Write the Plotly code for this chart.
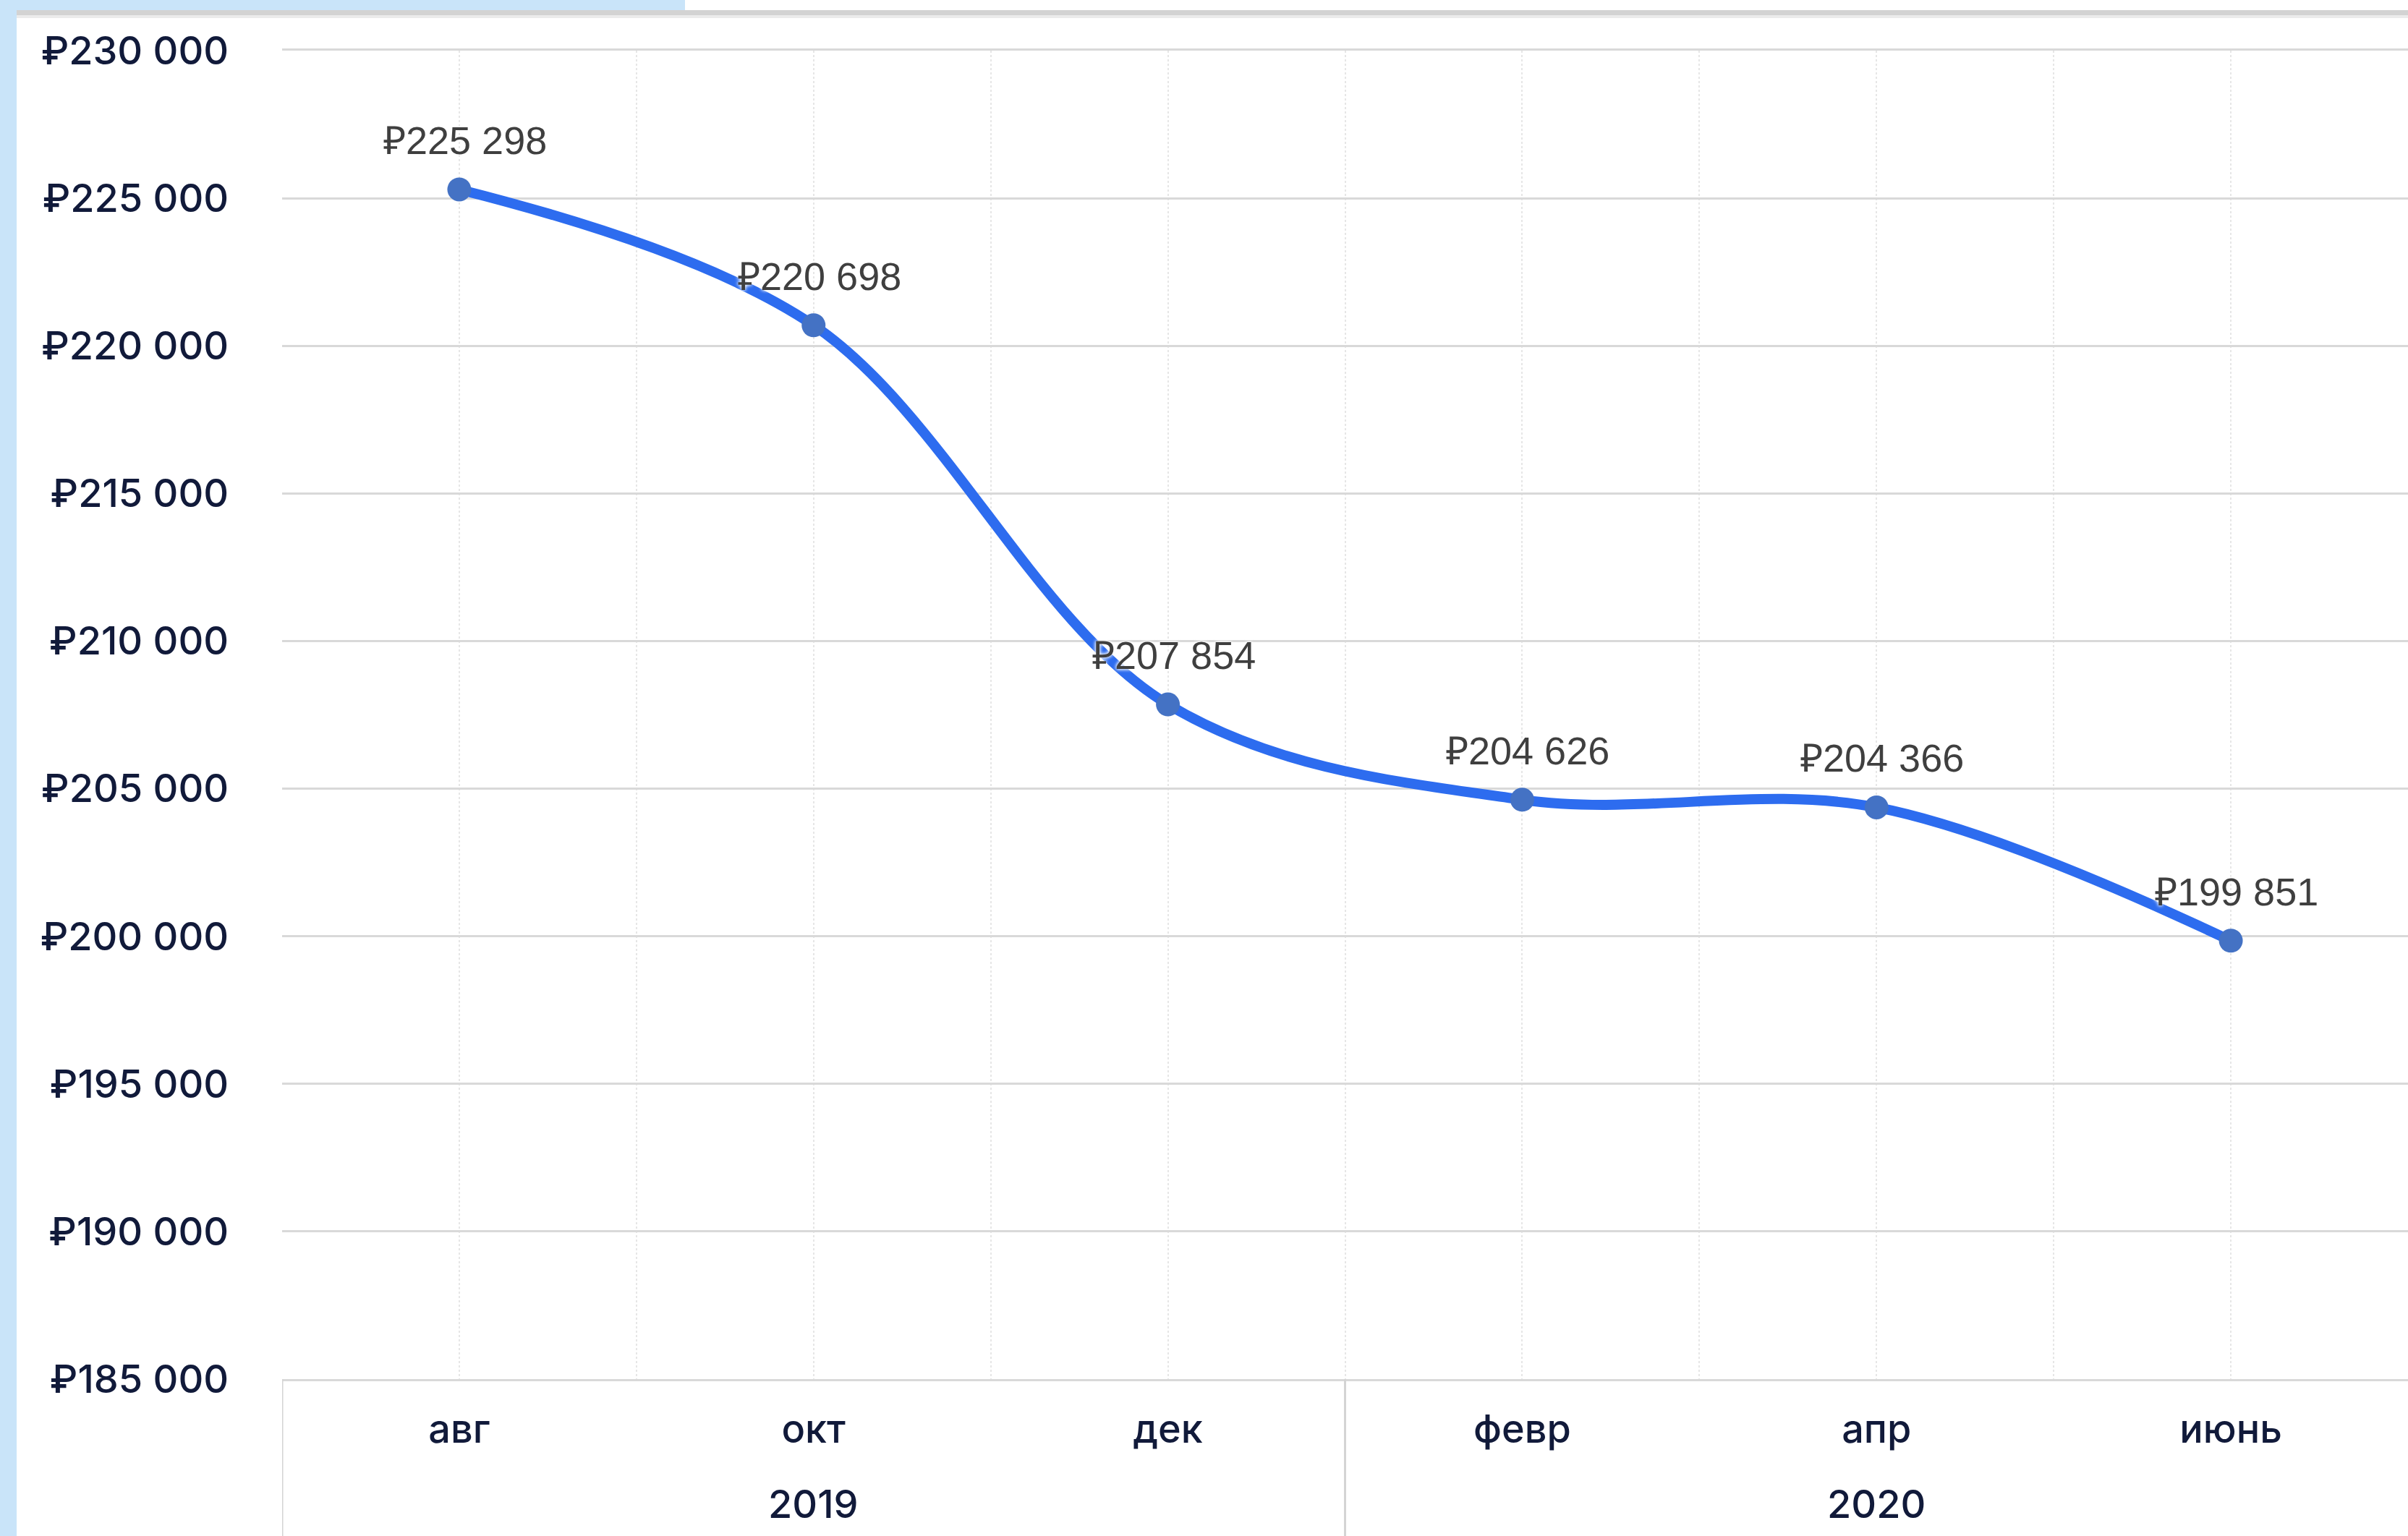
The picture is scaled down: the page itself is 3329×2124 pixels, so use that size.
import plotly.graph_objects as go

# Average price by month, Aug 2019 – Jun 2020 (every second month)
months = ["авг", "окт", "дек", "февр", "апр", "июнь"]
years = ["2019", "2019", "2019", "2020", "2020", "2020"]
prices = [225298, 220698, 207854, 204626, 204366, 199851]

# Page geometry
W, H = 3329, 2124
ML, MR, MT, MB = 390, 0, 70, 217
PW, PH = W - ML - MR, H - MT - MB


def px(x):
    """Pixel column -> paper x."""
    return (x - ML) / PW


def py(y):
    """Pixel row -> paper y."""
    return (H - MB - y) / PH


def rub(v):
    """Format a value as ₽ with space-separated thousands groups."""
    return "₽" + f"{v:,d}".replace(",", " ")


NAVY = "#111a3a"
AXIS_FONT = dict(family="Inter, Roboto, sans-serif", size=54, color=NAVY,
                 weight=500)
LABEL_FONT = dict(
    family="Liberation Sans, Arial, sans-serif",
    size=54,
    color="#3f3f3f",
    shadow="0px 0px 5px white, 0px 0px 5px white",
)

xs = list(range(len(months)))

fig = go.Figure()
fig.add_trace(
    go.Scatter(
        x=xs,
        y=prices,
        mode="lines+markers",
        line=dict(color="#2d6cef", width=14, shape="spline", smoothing=1.0),
        marker=dict(color="#4472c4", size=33, line=dict(width=0)),
        hoverinfo="skip",
        showlegend=False,
        cliponaxis=False,
    )
)

annotations = []
shapes = []

# Value labels above each point
for x, v in zip(xs, prices):
    annotations.append(
        dict(
            x=x, y=v, xref="x", yref="y",
            text=rub(v), showarrow=False, font=LABEL_FONT,
            xanchor="center", yanchor="middle",
            xshift=8, yshift=68,
        )
    )

# Year group labels and dividers under the month labels
seen = []
for yr in years:
    if yr not in seen:
        seen.append(yr)
for yr in seen:
    idx = [i for i, v in enumerate(years) if v == yr]
    left = xs[idx[0]] - 0.5
    centre = sum(xs[i] for i in idx) / len(idx)
    annotations.append(
        dict(
            x=centre, xref="x", y=py(2079), yref="paper",
            text=yr, showarrow=False, font=AXIS_FONT,
            xanchor="center", yanchor="middle",
        )
    )
    shapes.append(
        dict(
            type="line", xref="x", yref="paper",
            x0=left, x1=left, y0=0, y1=py(H + 10),
            line=dict(color="#d4d4d4", width=3),
        )
    )

# Page frame: light blue margin strips and the grey separator bar
shapes += [
    dict(type="rect", xref="paper", yref="paper",
         x0=px(0), x1=px(23), y0=py(H + 10), y1=py(-10),
         fillcolor="#c9e4f9", line=dict(width=0), layer="above"),
    dict(type="rect", xref="paper", yref="paper",
         x0=px(0), x1=px(947), y0=py(14), y1=py(-10),
         fillcolor="#c9e4f9", line=dict(width=0), layer="above"),
    dict(type="rect", xref="paper", yref="paper",
         x0=px(23), x1=px(W + 10), y0=py(21), y1=py(14),
         fillcolor="#d3d3d3", line=dict(width=0), layer="above"),
    dict(type="rect", xref="paper", yref="paper",
         x0=px(23), x1=px(W + 10), y0=py(25), y1=py(21),
         fillcolor="#ebebeb", line=dict(width=0), layer="above"),
]

fig.update_layout(
    width=W,
    height=H,
    margin=dict(l=ML, r=MR, t=MT, b=MB, pad=0),
    paper_bgcolor="white",
    plot_bgcolor="white",
    separators=", ",
    shapes=shapes,
    annotations=annotations,
    showlegend=False,
)

fig.update_xaxes(
    type="linear",
    range=[-0.5, len(months) - 0.5],
    tickmode="array",
    tickvals=xs,
    ticktext=months,
    tickfont=AXIS_FONT,
    ticks="outside",
    ticklen=20,
    tickcolor="rgba(0,0,0,0)",
    showgrid=True,
    gridcolor="#e6e6e6",
    gridwidth=2,
    griddash="dot",
    minor=dict(dtick=0.5, tick0=0, showgrid=True, gridcolor="#e6e6e6",
               gridwidth=2, griddash="dot"),
    showline=True,
    mirror=True,
    linecolor="#d9d9d9",
    linewidth=3,
    zeroline=False,
    fixedrange=True,
)

fig.update_yaxes(
    range=[185000, 230000],
    tick0=185000,
    dtick=5000,
    tickprefix="₽",
    tickformat=",d",
    tickfont=AXIS_FONT,
    ticks="outside",
    ticklen=62,
    tickcolor="rgba(0,0,0,0)",
    showgrid=True,
    gridcolor="#d9d9d9",
    gridwidth=3,
    zeroline=False,
    showline=False,
    fixedrange=True,
)

fig.write_html("out.html")
